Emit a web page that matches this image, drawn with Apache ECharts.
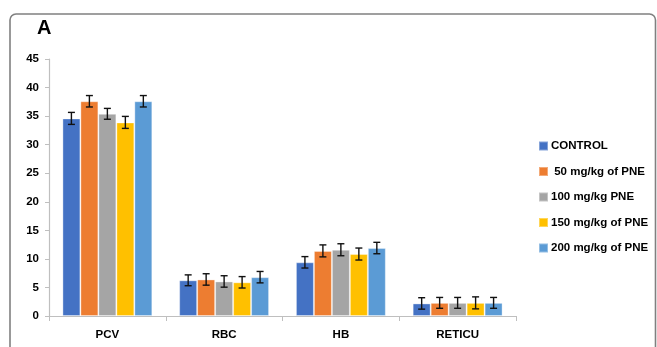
<!DOCTYPE html>
<html>
<head>
<meta charset="utf-8">
<script src="https://cdn.jsdelivr.net/npm/echarts@6/dist/echarts.min.js"></script>
<style>
  html, body { margin: 0; padding: 0; background: #fff; }
  #chart { width: 657px; height: 347px; }
</style>
</head>
<body>
<div id="chart"></div>
<script>
// Haematological parameters per treatment group (mean ± error)
const categories = ['PCV', 'RBC', 'HB', 'RETICU'];
const seriesNames = ['CONTROL', ' 50 mg/kg of PNE', '100 mg/kg PNE', '150 mg/kg of PNE', '200 mg/kg of PNE'];
const colors = ['#4472C4', '#ED7D31', '#A5A5A5', '#FFC000', '#5B9BD5'];

const control = [34.6, 6.25, 9.4, 2.2];
const pne50 = [37.6, 6.4, 11.4, 2.3];
const pne100 = [35.4, 6.05, 11.6, 2.3];
const pne150 = [33.9, 5.9, 10.85, 2.3];
const pne200 = [37.6, 6.8, 11.9, 2.3];

const errControl = [1.05, 0.95, 1.0, 1.0];
const err50 = [1.0, 1.0, 1.05, 0.95];
const err100 = [0.95, 1.0, 1.05, 0.95];
const err150 = [1.05, 1.0, 1.05, 1.05];
const err200 = [1.0, 1.0, 1.0, 0.95];

const yTicks = [0, 5, 10, 15, 20, 25, 30, 35, 40, 45];

const values = [control, pne50, pne100, pne150, pne200];
const errors = [errControl, err50, err100, err150, err200];

const CATEGORY_GAP = 0.23;   // fraction of band left empty
const nSeries = values.length;
const labelFont = 'Liberation Sans, Arial, sans-serif';

const barSeries = values.map((vals, i) => ({
  name: seriesNames[i],
  type: 'bar',
  data: vals,
  barGap: '0%',
  barCategoryGap: (CATEGORY_GAP * 100) + '%',
  itemStyle: { color: colors[i], borderColor: 'rgba(255,255,255,0.35)', borderWidth: 1 },
  z: 2
}));

// Error bars drawn on top of each bar, positioned within the category band
const errorSeries = values.map((vals, i) => ({
  name: seriesNames[i] + ' error',
  type: 'custom',
  data: vals.map((v, k) => [k, v - errors[i][k], v + errors[i][k]]),
  z: 5,
  silent: true,
  renderItem: function (params, api) {
    const k = api.value(0);
    const band = api.size([1, 0])[0];
    const groupW = band * (1 - CATEGORY_GAP);
    const barW = groupW / nSeries;
    const center = api.coord([k, 0])[0];
    const x = center - groupW / 2 + barW * (i + 0.5);
    const lo = api.coord([k, api.value(1)])[1];
    const hi = api.coord([k, api.value(2)])[1];
    const cap = 3.5;
    const style = { stroke: '#111', lineWidth: 1.4 };
    return {
      type: 'group',
      children: [
        { type: 'line', shape: { x1: x, y1: lo, x2: x, y2: hi }, style },
        { type: 'line', shape: { x1: x - cap, y1: hi, x2: x + cap, y2: hi }, style },
        { type: 'line', shape: { x1: x - cap, y1: lo, x2: x + cap, y2: lo }, style }
      ]
    };
  },
  encode: { x: 0, y: [1, 2] }
}));

const chart = echarts.init(document.getElementById('chart'), null, { renderer: 'canvas' });

chart.setOption({
  animation: false,
  backgroundColor: '#fff',
  grid: { left: 49, right: 141, top: 59, bottom: 31, containLabel: false },
  graphic: [
    {
      type: 'rect',
      shape: { x: 10, y: 14, width: 645.5, height: 360, r: 6 },
      style: { fill: 'none', stroke: '#808080', lineWidth: 1.6 },
      z: 0
    },
    {
      type: 'text',
      left: 37, top: 18,
      style: { text: 'A', font: 'bold 20px ' + labelFont, fill: '#000' }
    }
  ],
  legend: {
    orient: 'vertical',
    left: 538,
    top: 140,
    padding: 0,
    itemWidth: 9,
    itemHeight: 9,
    itemGap: 13.5,
    icon: 'rect',
    data: seriesNames,
    textStyle: { fontFamily: labelFont, fontWeight: 'bold', fontSize: 11.5, color: '#000', padding: [0, 0, 0, -2] }
  },
  xAxis: {
    type: 'category',
    data: categories,
    axisLine: { show: true, lineStyle: { color: '#bfbfbf', width: 1.2 } },
    axisTick: { show: true, alignWithLabel: false, length: 5, lineStyle: { color: '#bfbfbf' } },
    axisLabel: { fontFamily: labelFont, fontWeight: 'bold', fontSize: 11.5, color: '#000', margin: 13 }
  },
  yAxis: {
    type: 'value',
    min: yTicks[0],
    max: yTicks[yTicks.length - 1],
    interval: yTicks[1] - yTicks[0],
    splitLine: { show: false },
    axisLine: { show: true, lineStyle: { color: '#bfbfbf', width: 1.2 } },
    axisTick: { show: true, length: 4, lineStyle: { color: '#bfbfbf' } },
    axisLabel: { fontFamily: labelFont, fontWeight: 'bold', fontSize: 11.5, color: '#000', margin: 10 }
  },
  series: barSeries.concat(errorSeries)
});
</script>
</body>
</html>
